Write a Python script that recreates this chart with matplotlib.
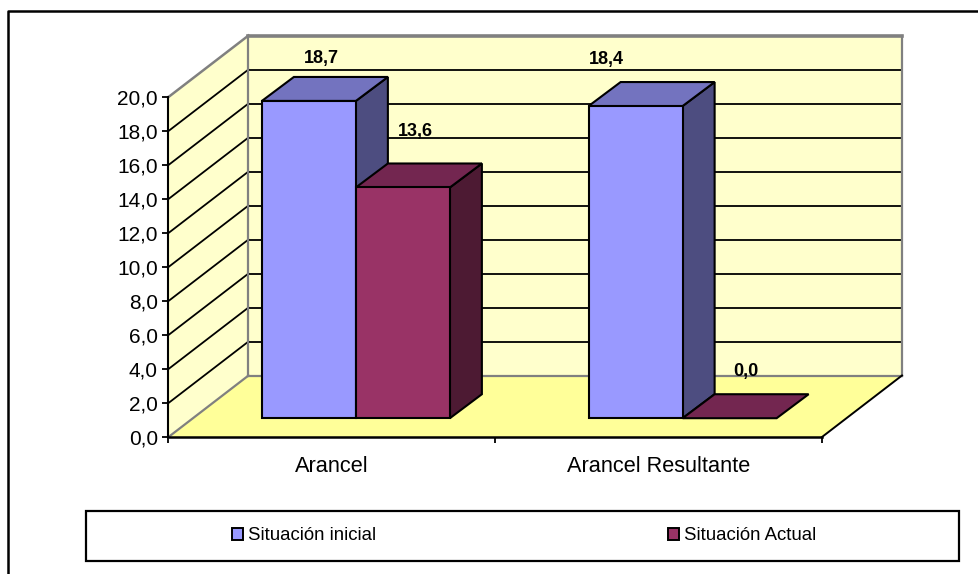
import matplotlib
matplotlib.use("Agg")
import matplotlib.pyplot as plt
from matplotlib.lines import Line2D
from matplotlib.patches import Patch, Polygon, Rectangle

plt.rcParams['font.family'] = ['Liberation Sans', 'DejaVu Sans']

# ---- data ----
categories = ["Arancel", "Arancel Resultante"]
series_names = ["Situación inicial", "Situación Actual"]
situacion_inicial = [18.7, 18.4]
situacion_actual = [13.6, 0.0]
y_ticks = [0, 2, 4, 6, 8, 10, 12, 14, 16, 18, 20]

# ---- styles / layout ----
W, H = 979, 574
BLUE = ("#9999FF", "#7373BF", "#4D4D80")
RED = ("#993366", "#732650", "#4D1A33")
WALL, FLOOR, GREY = "#FFFFCC", "#FFFF99", "#808080"
AX_L, AX_R, AX_T, AX_B = 168.5, 822.0, 97.0, 437.0
PX_X = (AX_R - AX_L) / 2
PX_Y = (AX_B - AX_T) / 20
DX, DY = 80 / PX_X, 61.5 / PX_Y       # full depth of the chart, data units
BAR_W = 0.2877
BAR_SCALE = 0.998
LABEL_OFFSETS = [[(13, 42), (-29, 47)], [(12.5, 55.5), (16, 47)]]  # pixels


def fx(px):
    return px / W


def fy(py):
    return 1 - py / H


fig = plt.figure(figsize=(W / 100, H / 100), dpi=100, facecolor="white")
ax = fig.add_axes([fx(AX_L), fy(AX_B), (AX_R - AX_L) / W, (AX_B - AX_T) / H])
ax.set_xlim(0, 2)
ax.set_ylim(0, 20)
ax.patch.set_visible(False)


def poly(points, fc, ec="none", lw=0, z=1):
    ax.add_patch(Polygon(points, closed=True, facecolor=fc, edgecolor=ec, linewidth=lw,
                         zorder=z, clip_on=False, joinstyle="miter"))


def line(xs, ys, color="black", lw=1.0, z=2):
    ax.add_line(Line2D(xs, ys, color=color, linewidth=lw, zorder=z, clip_on=False,
                       solid_capstyle="projecting"))


# walls and floor
poly([(DX, DY), (2 + DX, DY), (2 + DX, 20 + DY), (DX, 20 + DY)], WALL)
poly([(0, 0), (DX, DY), (DX, 20 + DY), (0, 20)], WALL)
poly([(0, 0), (2, 0), (2 + DX, DY), (DX, DY)], FLOOR)

# grid
for v in y_ticks[1:-1]:
    line([0, DX], [v, v + DY], lw=1.3)
    line([DX, 2 + DX], [v + DY, v + DY], lw=1.3)

# wall outlines
line([0, DX], [20, 20 + DY], GREY, 1.8)
line([DX, 2 + DX], [20 + DY, 20 + DY], GREY, 2.6)
line([DX, DX], [DY, 20 + DY], GREY, 1.6)
line([2 + DX, 2 + DX], [DY, 20 + DY], GREY, 1.6)
line([DX, 2 + DX], [DY, DY], GREY, 1.6)
line([0, DX], [0, DY], GREY, 1.6)
line([2, 2 + DX], [0, DY], "black", 1.4)


def bar(x0, value, colors, z):
    h = value * BAR_SCALE
    x1 = x0 + BAR_W
    fx0, fy0 = 0.3 * DX, 0.3 * DY + 0.02
    bx, by = 0.4 * DX, 0.39 * DY
    a, b = x0 + fx0, x1 + fx0
    lo, hi = fy0, fy0 + h
    kw = dict(ec="black", lw=1.5, z=z)
    if value > 0:
        poly([(b, lo), (b + bx, lo + by), (b + bx, hi + by), (b, hi)], colors[2], **kw)
    poly([(a, hi), (b, hi), (b + bx, hi + by), (a + bx, hi + by)], colors[1], **kw)
    if value > 0:
        poly([(a, lo), (b, lo), (b, hi), (a, hi)], colors[0], **kw)
    return (a + b) / 2, hi


# bars and value labels
for s, (values, colors) in enumerate(((situacion_inicial, BLUE), (situacion_actual, RED))):
    for c, value in enumerate(values):
        x0 = c + 0.5 - BAR_W + s * BAR_W
        cx, top = bar(x0, value, colors, 5 + c * 10 + s)
        ax.annotate(f"{value:.1f}".replace(".", ","), (cx, top), annotation_clip=False,
                    xytext=LABEL_OFFSETS[s][c], textcoords="offset pixels",
                    ha="center", va="center", fontsize=13.0, fontweight="bold",
                    color="black", zorder=40)

# axes
for side in ("top", "right"):
    ax.spines[side].set_visible(False)
ax.spines["left"].set_linewidth(1.5)
ax.spines["bottom"].set_linewidth(1.8)
ax.spines["left"].set_zorder(3)
ax.spines["bottom"].set_zorder(3)
ax.set_yticks(y_ticks)
ax.set_yticklabels([f"{v:.1f}".replace(".", ",") for v in y_ticks], fontsize=15.0)
ax.tick_params(axis="y", length=4.3, width=1.3, pad=3.3)
ax.set_xticks([0, 1, 2])
ax.set_xticklabels(["", "", ""])
ax.tick_params(axis="x", which="major", length=4.3, width=1.3)
ax.set_xticks([0.5, 1.5], minor=True)
ax.set_xticklabels(categories, minor=True, fontsize=15.7)
ax.tick_params(axis="x", which="minor", length=0, pad=13.5)

# outer frame (top and left only) and legend box
fig.add_artist(Line2D([fx(8), fx(8), 1], [0, fy(11), fy(11)], color="black", linewidth=1.8,
                      transform=fig.transFigure))
fig.add_artist(Rectangle((fx(86), fy(561)), 873 / W, 50 / H, facecolor="white", edgecolor="black",
                         linewidth=1.6, transform=fig.transFigure))

handles = [Patch(facecolor=BLUE[0], edgecolor="black", linewidth=1.4),
           Patch(facecolor=RED[0], edgecolor="black", linewidth=1.4)]
fig.legend(handles, series_names, loc="center", mode="expand", ncols=2, frameon=False,
           bbox_to_anchor=(fx(232), fy(561), 584 / W, 50 / H), bbox_transform=fig.transFigure,
           fontsize=13.4, borderpad=0, borderaxespad=0, handlelength=0.6, handleheight=0.6,
           handletextpad=0.25)

fig.savefig("out.png", dpi=100)
